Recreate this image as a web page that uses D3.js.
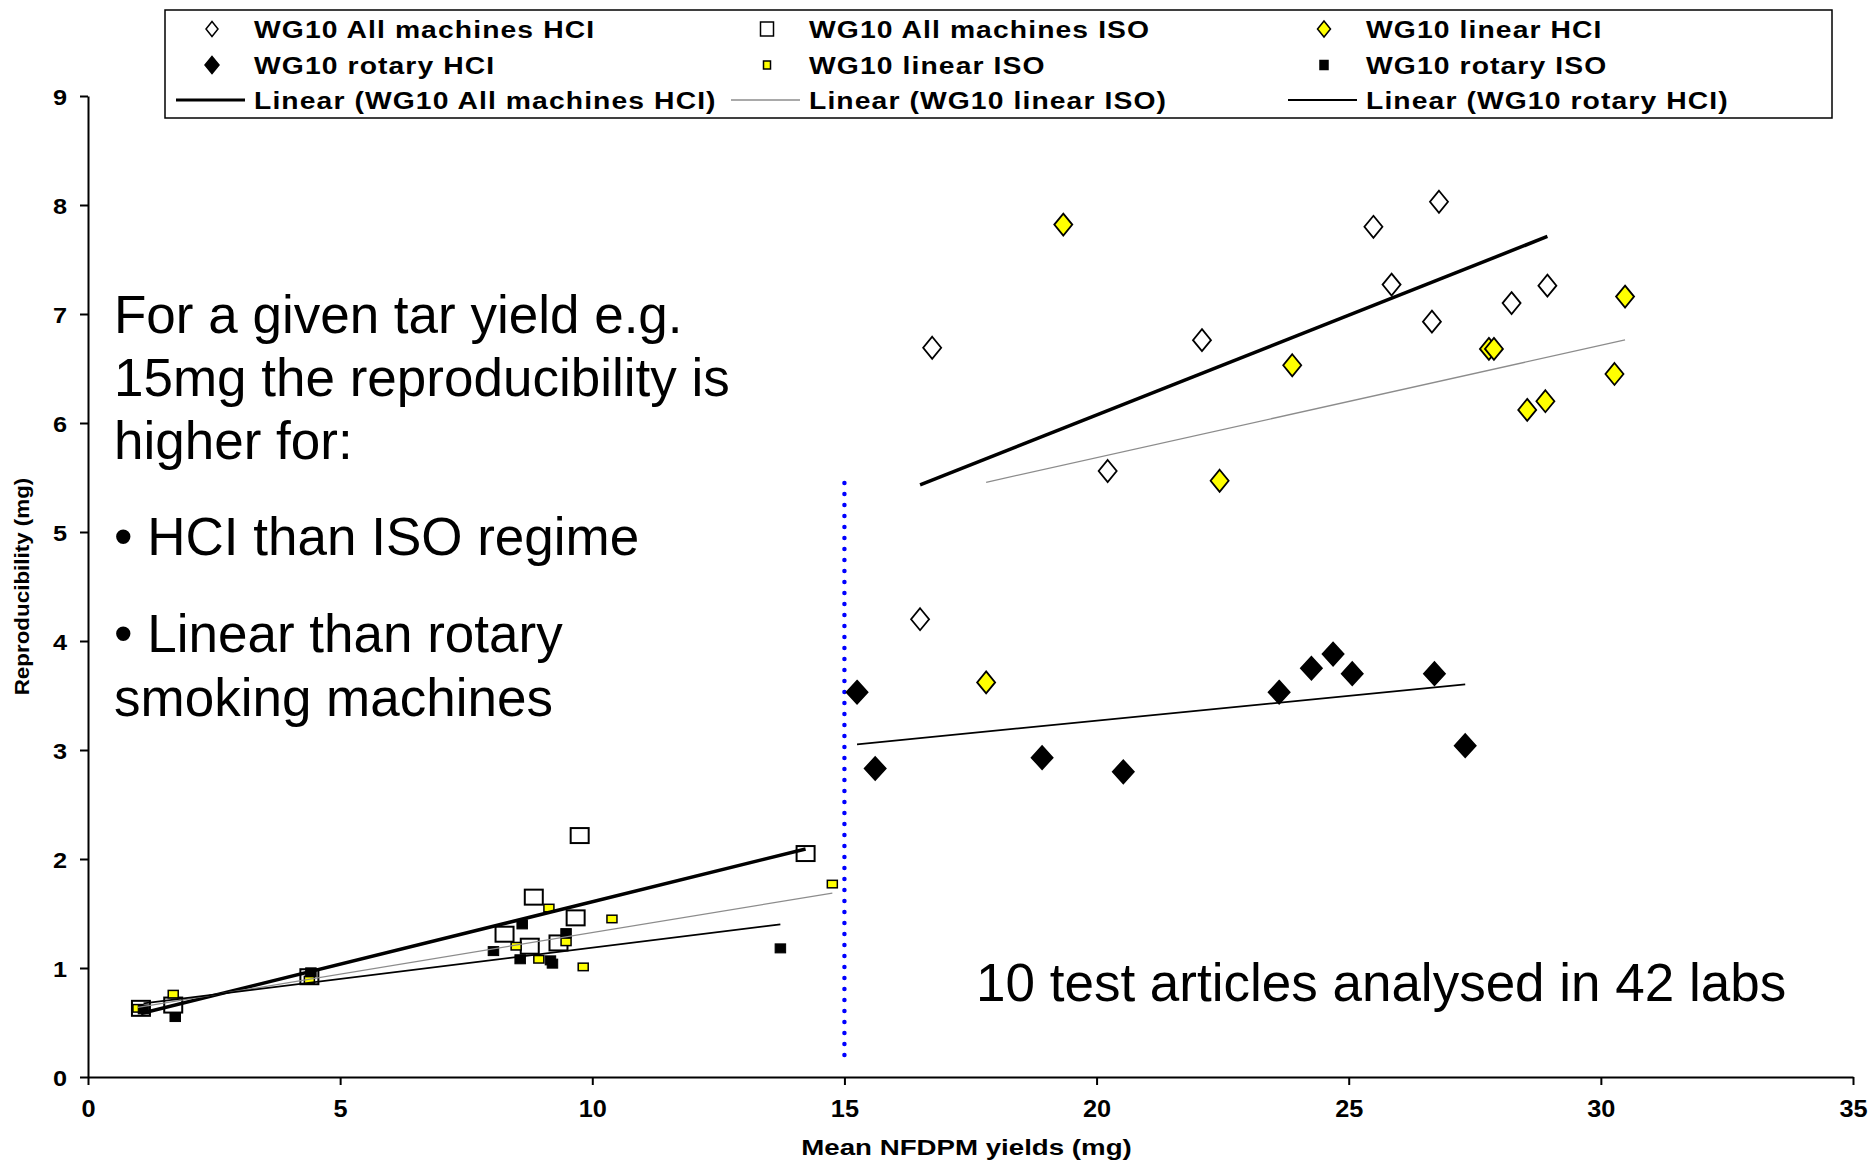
<!DOCTYPE html>
<html>
<head>
<meta charset="utf-8">
<script src="https://cdn.jsdelivr.net/npm/d3@7"></script>
<style>
  html, body { margin: 0; padding: 0; background: #fff; }
  svg { display: block; font-family: "Liberation Sans", Arial, sans-serif; }
</style>
</head>
<body>
<svg id="chart" width="1870" height="1160"></svg>
<script>
// [mean NFDPM yield, reproducibility]
const allMachinesHCI = [[26.79, 8.03], [25.49, 7.80], [25.85, 7.27], [28.94, 7.26], [28.23, 7.10],
  [26.65, 6.93], [22.09, 6.76], [16.74, 6.69], [20.22, 5.56], [16.50, 4.20]];
const allMachinesISO = [[1.05, 0.63], [1.69, 0.66], [4.39, 0.92], [9.75, 2.215], [14.23, 2.05],
  [8.84, 1.65], [9.67, 1.46], [8.26, 1.31], [8.76, 1.20], [9.33, 1.23]];
const linearHCI = [[19.34, 7.82], [30.48, 7.16], [23.88, 6.53], [27.78, 6.68], [27.88, 6.68],
  [30.27, 6.45], [28.90, 6.20], [28.54, 6.12], [22.44, 5.47], [17.81, 3.62]];
const rotaryHCI = [[15.25, 3.53], [15.61, 2.83], [18.92, 2.93], [20.53, 2.80], [23.62, 3.53],
  [24.26, 3.75], [24.69, 3.88], [25.07, 3.70], [26.70, 3.70], [27.31, 3.04]];
const linearISO = [[0.99, 0.63], [1.69, 0.76], [4.39, 0.89], [14.76, 1.77], [9.14, 1.55],
  [10.39, 1.45], [8.49, 1.20], [9.48, 1.24], [8.94, 1.08], [9.82, 1.01]];
const rotaryISO = [[1.10, 0.62], [1.73, 0.55], [4.42, 0.96], [13.73, 1.18], [8.61, 1.40],
  [9.48, 1.32], [8.04, 1.155], [8.57, 1.08], [9.17, 1.07], [9.21, 1.04]];

const xTicks = [0, 5, 10, 15, 20, 25, 30, 35];
const yTicks = [0, 1, 2, 3, 4, 5, 6, 7, 8, 9];
const cutoffX = 15;
const cutoffY = [0.12, 5.45];

const noteLines = ["For a given tar yield e.g.", "15mg the reproducibility is", "higher for:"];
const bulletLines = ["\u2022 HCI than ISO regime", "\u2022 Linear than rotary", "smoking machines"];
const footNote = "10 test articles analysed in 42 labs";

const svg = d3.select('#chart');
const plot = { left: 88, right: 1853, top: 96, bottom: 1077 };

const x = d3.scaleLinear().domain([0, 35]).range([plot.left, plot.right]);
const y = d3.scaleLinear().domain([0, 9]).range([plot.bottom, plot.top]);

// chart text in the original is rendered wide, so stretch it horizontally
function wideText(parent, px, py, str, size, sx, anchor) {
  return parent.append('text')
    .attr('transform', `translate(${px},${py}) scale(${sx},1)`)
    .attr('text-anchor', anchor || 'start')
    .attr('font-size', size)
    .attr('font-weight', 'bold')
    .attr('fill', '#000')
    .text(str);
}

function diamond(w, h) {
  return `M0,${-h / 2}L${w / 2},0L0,${h / 2}L${-w / 2},0Z`;
}

// axes
const xAxis = svg.append('g')
  .attr('transform', `translate(0,${plot.bottom})`)
  .call(d3.axisBottom(x).tickValues(xTicks).tickSize(8).tickSizeOuter(0).tickFormat(d3.format('d')));
xAxis.selectAll('text')
  .attr('y', 40).attr('dy', 0)
  .attr('font-size', 23).attr('font-weight', 'bold').attr('fill', '#000')
  .attr('font-family', '"Liberation Sans", Arial, sans-serif')
  .attr('transform', 'scale(1.1,1)');

const yAxis = svg.append('g')
  .attr('transform', `translate(${plot.left},0)`)
  .call(d3.axisLeft(y).tickValues(yTicks).tickSize(8).tickSizeOuter(0).tickFormat(d3.format('d')));
yAxis.selectAll('text')
  .attr('x', -21 / 1.15).attr('dy', 0).attr('y', 8)
  .attr('font-size', 22).attr('font-weight', 'bold').attr('fill', '#000')
  .attr('font-family', '"Liberation Sans", Arial, sans-serif')
  .attr('transform', 'scale(1.15,1)');

svg.selectAll('.domain, .tick line').attr('stroke', '#000').attr('stroke-width', 2);

wideText(svg, (plot.left + plot.right) / 2 - 4, 1155, 'Mean NFDPM yields (mg)', 22.5, 1.23, 'middle');
wideText(svg, 0, 0, 'Reproducibility (mg)', 20, 1.12, 'middle')
  .attr('transform', `translate(29,${(plot.top + plot.bottom) / 2}) rotate(-90) scale(1.12,1)`);

// cut-off line at 15 mg
svg.append('line')
  .attr('x1', x(cutoffX)).attr('x2', x(cutoffX))
  .attr('y1', y(cutoffY[1])).attr('y2', y(cutoffY[0]))
  .attr('stroke', '#0000ff').attr('stroke-width', 4.5)
  .attr('stroke-linecap', 'round').attr('stroke-dasharray', '0 11');

// markers
const marks = svg.append('g');
function drawDiamonds(data, w, h, fill, stroke) {
  marks.selectAll(null).data(data).enter().append('path')
    .attr('d', diamond(w, h))
    .attr('transform', d => `translate(${x(d[0])},${y(d[1])})`)
    .attr('fill', fill).attr('stroke', stroke).attr('stroke-width', 1.8);
}
function drawSquares(data, w, h, fill, sw) {
  marks.selectAll(null).data(data).enter().append('rect')
    .attr('x', d => x(d[0]) - w / 2).attr('y', d => y(d[1]) - h / 2)
    .attr('width', w).attr('height', h)
    .attr('fill', fill).attr('stroke', '#000').attr('stroke-width', sw);
}
drawDiamonds(allMachinesHCI, 18, 22, '#fff', '#000');
drawSquares(allMachinesISO, 18, 15, '#fff', 2);
drawDiamonds(linearHCI, 18, 22, '#ffff00', '#000');
drawDiamonds(rotaryHCI, 21, 23, '#000', '#000');
drawSquares(linearISO, 10, 7.5, '#ffff00', 1.5);
drawSquares(rotaryISO, 10.5, 9, '#000', 1);

// least squares trendlines
function fit(data) {
  const mx = d3.mean(data, d => d[0]), my = d3.mean(data, d => d[1]);
  const slope = d3.sum(data, d => (d[0] - mx) * (d[1] - my)) / d3.sum(data, d => (d[0] - mx) ** 2);
  const [x0, x1] = d3.extent(data, d => d[0]);
  return [[x0, my + slope * (x0 - mx)], [x1, my + slope * (x1 - mx)]];
}
const trendStyle = {
  all: { stroke: '#000', width: 3.5 },
  linear: { stroke: '#8c8c8c', width: 1.3 },
  rotary: { stroke: '#000', width: 1.8 }
};
const line = d3.line().x(d => x(d[0])).y(d => y(d[1]));
[[allMachinesHCI, 'all'], [linearHCI, 'linear'], [rotaryHCI, 'rotary'],
 [allMachinesISO, 'all'], [linearISO, 'linear'], [rotaryISO, 'rotary']].forEach(([data, kind]) => {
  svg.append('path').attr('d', line(fit(data)))
    .attr('fill', 'none')
    .attr('stroke', trendStyle[kind].stroke)
    .attr('stroke-width', trendStyle[kind].width);
});

// legend
const legend = svg.append('g');
legend.append('rect')
  .attr('x', 165).attr('y', 10).attr('width', 1667).attr('height', 108)
  .attr('fill', '#fff').attr('stroke', '#000').attr('stroke-width', 1.5);

const legendCols = [212, 767, 1324];
const legendRows = [29, 65, 100];
const legendItems = [
  { label: 'WG10 All machines HCI', type: 'diamond', fill: '#fff', w: 12, h: 15 },
  { label: 'WG10 All machines ISO', type: 'square', fill: '#fff', w: 13, h: 14 },
  { label: 'WG10 linear HCI', type: 'diamond', fill: '#ffff00', w: 13, h: 16 },
  { label: 'WG10 rotary HCI', type: 'diamond', fill: '#000', w: 14, h: 17 },
  { label: 'WG10 linear ISO', type: 'square', fill: '#ffff00', w: 7, h: 8 },
  { label: 'WG10 rotary ISO', type: 'square', fill: '#000', w: 8, h: 9 },
  { label: 'Linear (WG10 All machines HCI)', type: 'line', kind: 'all' },
  { label: 'Linear (WG10 linear ISO)', type: 'line', kind: 'linear' },
  { label: 'Linear (WG10 rotary HCI)', type: 'line', kind: 'rotary' }
];
legendItems.forEach((it, i) => {
  const cx = legendCols[i % 3], cy = legendRows[Math.floor(i / 3)];
  if (it.type === 'diamond') {
    legend.append('path').attr('d', diamond(it.w, it.h))
      .attr('transform', `translate(${cx},${cy})`)
      .attr('fill', it.fill).attr('stroke', '#000').attr('stroke-width', 1.5);
  } else if (it.type === 'square') {
    legend.append('rect').attr('x', cx - it.w / 2).attr('y', cy - it.h / 2)
      .attr('width', it.w).attr('height', it.h)
      .attr('fill', it.fill).attr('stroke', '#000').attr('stroke-width', 1.5);
  } else {
    legend.append('line').attr('x1', cx - 36).attr('x2', cx + 33)
      .attr('y1', cy).attr('y2', cy)
      .attr('stroke', trendStyle[it.kind].stroke)
      .attr('stroke-width', it.kind === 'all' ? 3 : trendStyle[it.kind].width);
  }
  wideText(legend, cx + 42, cy + 8.5, it.label, 23, 1.23, 'start').attr('letter-spacing', 0.9);
});

// annotations
const notes = svg.append('g').attr('font-size', 53).attr('fill', '#000');
const noteBaselines = [333, 396, 459];
noteLines.forEach((t, i) => notes.append('text').attr('x', 114).attr('y', noteBaselines[i]).text(t));
const bulletBaselines = [555, 652, 716];
bulletLines.forEach((t, i) => notes.append('text').attr('x', 114).attr('y', bulletBaselines[i]).text(t));
notes.append('text').attr('x', 976).attr('y', 1001).text(footNote);
</script>
</body>
</html>
